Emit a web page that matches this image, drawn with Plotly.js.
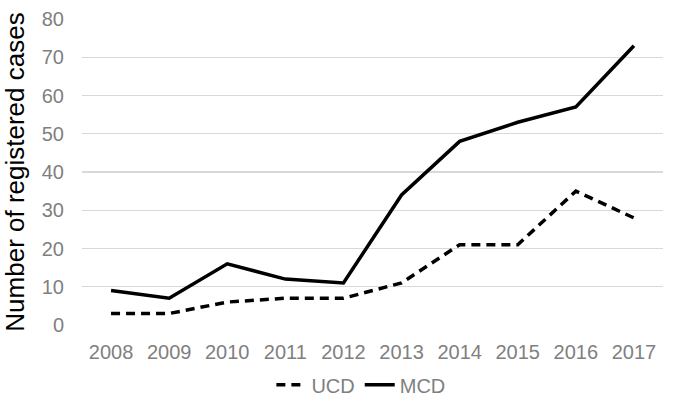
<!DOCTYPE html>
<html>
<head>
<meta charset="utf-8">
<script src="https://cdn.plot.ly/plotly-3.0.1.min.js"></script>
<style>html,body{margin:0;padding:0;background:#fff;}#chart{width:680px;height:405px;}</style>
</head>
<body>
<div id="chart"></div>
<script>
const years = ["2008","2009","2010","2011","2012","2013","2014","2015","2016","2017"];
const ucd = [3, 3, 6, 7, 7, 11, 21, 21, 35, 28];
const mcd = [9, 7, 16, 12, 11, 34, 48, 53, 57, 73];
const yTicks = [0, 10, 20, 30, 40, 50, 60, 70, 80];

const traces = [
  {x: years, y: ucd, name: "UCD", type: "scatter", mode: "lines",
   line: {color: "#000", width: 3.5, dash: "9px,6px"}},
  {x: years, y: mcd, name: "MCD", type: "scatter", mode: "lines",
   line: {color: "#000", width: 3.5}}
];
const layout = {
  width: 680, height: 405,
  margin: {l: 82, r: 17, t: 19, b: 80, autoexpand: false},
  paper_bgcolor: "#fff", plot_bgcolor: "#fff",
  font: {family: "Liberation Sans, Arial, sans-serif", color: "#7f7f7f", size: 20},
  showlegend: true,
  legend: {orientation: "h", xref: "paper", x: 0.48, xanchor: "center",
           yref: "container", y: 0.05, yanchor: "middle",
           font: {size: 20, color: "#7f7f7f"}, itemwidth: 30, tracegroupgap: 0},
  xaxis: {type: "category", range: [-0.5, 9.5], showgrid: false, zeroline: false,
          showline: false, ticks: "outside", ticklen: 9, tickcolor: "rgba(0,0,0,0)",
          tickfont: {size: 20, color: "#7f7f7f"},
          automargin: false, fixedrange: true},
  yaxis: {range: [0, 80], tickvals: yTicks, showgrid: true, gridcolor: "#d9d9d9", gridwidth: 1.3,
          zeroline: false, showline: false, ticks: "outside", ticklen: 13, tickcolor: "rgba(0,0,0,0)",
          tickfont: {size: 20, color: "#7f7f7f"}, automargin: false,
          title: {text: "Number of registered cases", font: {size: 26, color: "#000"}, standoff: 9},
          fixedrange: true}
};
Plotly.newPlot("chart", traces, layout, {displayModeBar: false, staticPlot: true});
</script>
</body>
</html>
